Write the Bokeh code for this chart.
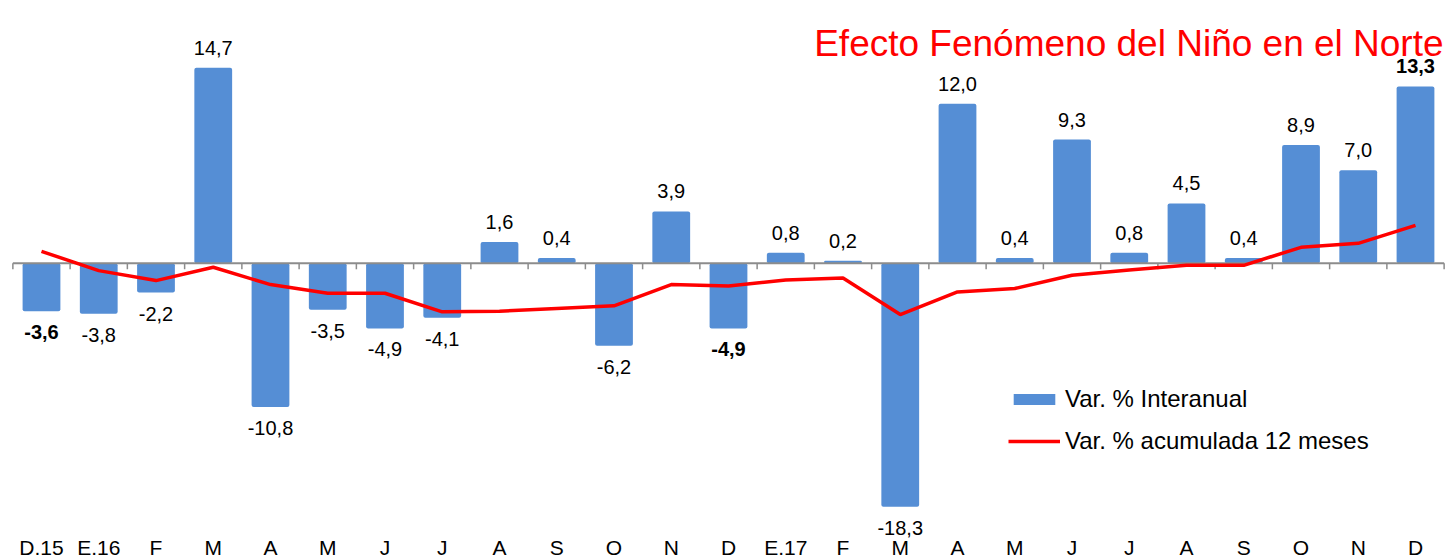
from bokeh.plotting import figure
from bokeh.models import (ColumnDataSource, LabelSet, Label, Legend, LegendItem, Range1d)
from bokeh.core.properties import value
from bokeh.embed import file_html
from bokeh.resources import INLINE

categories = ["D.15", "E.16", "F", "M", "A", "M", "J", "J", "A", "S", "O", "N", "D",
              "E.17", "F", "M", "A", "M", "J", "J", "A", "S", "O", "N", "D"]
interanual = [-3.6, -3.8, -2.2, 14.7, -10.8, -3.5, -4.9, -4.1, 1.6, 0.4, -6.2, 3.9, -4.9,
              0.8, 0.2, -18.3, 12.0, 0.4, 9.3, 0.8, 4.5, 0.4, 8.9, 7.0, 13.3]
acumulada = [0.9, -0.55, -1.3, -0.3, -1.6, -2.25, -2.25, -3.65, -3.6, -3.4, -3.2, -1.6, -1.7,
             -1.25, -1.1, -3.85, -2.15, -1.9, -0.9, -0.5, -0.15, -0.15, 1.2, 1.5, 2.85]
bold_idx = [0, 12, 24]
title_text = "Efecto Fenómeno del Niño en el Norte"
legend_labels = ["Var. % Interanual", "Var. % acumulada 12 meses"]

FONT = "Liberation Sans"
BLUE = "#558ED5"
RED = "#FF0000"

n = len(categories)
xs = list(range(n))
fmt = [f"{v:.1f}".replace(".", ",") for v in interanual]
styles = ["bold" if i in bold_idx else "normal" for i in xs]

X0, X1 = -0.716, 24.524
Y0, Y1 = -22.12, 19.76
p = figure(width=1445, height=557, output_backend="svg", toolbar_location=None,
           x_range=Range1d(X0, X1), y_range=Range1d(Y0, Y1),
           x_axis_location=None, y_axis_location=None, min_border=0)
p.outline_line_color = None
p.xgrid.visible = False
p.ygrid.visible = False
p.background_fill_color = "white"

# bars
bars = p.vbar(x=xs, top=interanual, bottom=0, width=0.66, fill_color=BLUE,
              line_color=None, border_radius=2)

# zero axis line and tick marks between categories
p.segment(x0=[-0.5], y0=[0], x1=[n - 0.5], y1=[0], line_color="#8C8C8C", line_width=2)
bounds = [i - 0.5 for i in range(n + 1)]
p.segment(x0=bounds, y0=[0] * len(bounds), x1=bounds, y1=[-0.45] * len(bounds),
          line_color="#8C8C8C", line_width=1.5)

# cumulative line
line = p.line(x=xs, y=acumulada, line_color=RED, line_width=3.5)

# value labels
pos = [i for i in xs if interanual[i] >= 0]
neg = [i for i in xs if interanual[i] < 0]
src_pos = ColumnDataSource(dict(x=pos, y=[interanual[i] for i in pos],
                                t=[fmt[i] for i in pos], s=[styles[i] for i in pos]))
src_neg = ColumnDataSource(dict(x=neg, y=[interanual[i] for i in neg],
                                t=[fmt[i] for i in neg], s=[styles[i] for i in neg]))
p.add_layout(LabelSet(x="x", y="y", text="t", source=src_pos, text_align="center",
                      text_baseline="alphabetic", y_offset=13, text_font=value(FONT),
                      text_font_size="20px", text_font_style="s", text_color="black"))
p.add_layout(LabelSet(x="x", y="y", text="t", source=src_neg, text_align="center",
                      text_baseline="top", y_offset=-14, text_font=value(FONT),
                      text_font_size="20px", text_font_style="s", text_color="black"))

# category labels along the bottom
src_cat = ColumnDataSource(dict(x=xs, y=[Y0] * n, t=categories))
p.add_layout(LabelSet(x="x", y="y", text="t", source=src_cat, text_align="center",
                      text_baseline="alphabetic", y_offset=3, text_font=value(FONT),
                      text_font_size="21px", text_color="black"))

# title
p.add_layout(Label(x=24.49, y=16.53, text=title_text, text_align="right",
                   text_baseline="alphabetic", text_font=FONT, text_font_size="37px",
                   text_color=RED))

legend = Legend(items=[LegendItem(label=legend_labels[0], renderers=[bars]),
                       LegendItem(label=legend_labels[1], renderers=[line])],
                location=(1008, 102), border_line_color=None, background_fill_alpha=0,
                glyph_width=52, glyph_height=14, label_height=20, spacing=14,
                padding=0, margin=0, label_standoff=5, label_text_font=FONT,
                label_text_font_size="24px", label_text_color="black")
p.add_layout(legend)

open("out.html", "w").write(file_html(p, INLINE))
